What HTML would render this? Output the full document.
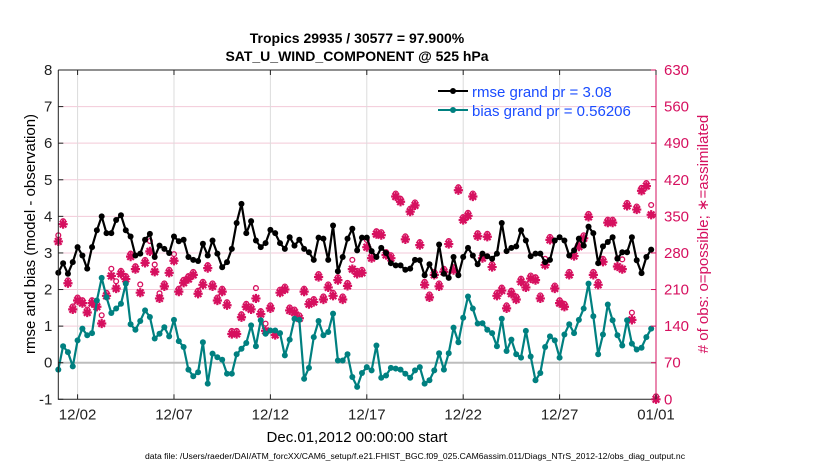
<!DOCTYPE html>
<html><head><meta charset="utf-8"><style>
body{margin:0;background:#fff;}
svg text{font-family:"Liberation Sans",sans-serif;}
</style></head><body>
<svg id="chart" width="830" height="470" viewBox="0 0 830 470" xmlns="http://www.w3.org/2000/svg">
<rect width="830" height="470" fill="#fff"/>
<g id="grid"></g>
<g id="obs"></g>
<g id="lines"></g>
<g id="axes"></g>
<text x="357" y="43" font-size="14" font-weight="bold" text-anchor="middle">Tropics 29935 / 30577 = 97.900%</text>
<text x="357" y="61" font-size="14" font-weight="bold" text-anchor="middle">SAT_U_WIND_COMPONENT @ 525 hPa</text>
<text transform="translate(35,234) rotate(-90)" font-size="15" text-anchor="middle">rmse and bias (model - observation)</text>
<text transform="translate(708,234) rotate(-90)" font-size="15" fill="#d6105f" text-anchor="middle"># of obs: o=possible; ∗=assimilated</text>
<text x="357" y="442" font-size="15" text-anchor="middle">Dec.01,2012 00:00:00 start</text>
<text x="415" y="459" font-size="8.6" text-anchor="middle" textLength="540" lengthAdjust="spacingAndGlyphs">data file: /Users/raeder/DAI/ATM_forcXX/CAM6_setup/f.e21.FHIST_BGC.f09_025.CAM6assim.011/Diags_NTrS_2012-12/obs_diag_output.nc</text>
<g>
<line x1="438" y1="91" x2="468" y2="91" stroke="#000" stroke-width="2"/>
<circle cx="453" cy="91" r="3" fill="#000"/>
<text x="472" y="97" font-size="15" fill="#1a4cff">rmse grand pr = 3.08</text>
<line x1="438" y1="110" x2="468" y2="110" stroke="#008080" stroke-width="2"/>
<circle cx="453" cy="110" r="3" fill="#008080"/>
<text x="472" y="116" font-size="15" fill="#1a4cff">bias grand pr = 0.56206</text>
</g>
</svg>
<script>
const rmse=[2.46,2.72,2.43,2.75,3.16,2.93,2.57,3.16,3.62,4.0,3.54,3.54,3.9,4.03,3.62,3.45,2.93,2.98,3.36,3.52,2.89,3.2,3.11,3.0,3.45,3.32,3.36,2.89,2.81,2.78,3.25,2.93,3.34,2.98,2.61,2.75,3.11,3.82,4.34,3.54,3.87,3.34,3.16,3.27,3.63,3.54,3.27,3.11,3.43,3.2,3.36,3.11,3.02,2.81,3.42,3.39,2.81,3.75,2.5,2.89,3.39,3.66,3.07,3.42,3.42,3.05,2.89,3.14,3.0,2.72,2.66,2.66,2.54,2.57,2.81,2.8,2.39,2.69,2.39,3.23,2.43,2.32,2.89,2.39,2.89,3.14,2.93,2.69,2.98,2.91,2.84,2.98,3.82,3.05,3.14,3.18,3.62,3.34,2.91,2.98,2.98,2.75,2.81,3.34,3.43,3.34,2.93,3.07,3.39,3.2,3.72,3.54,2.72,3.18,3.3,3.43,2.84,3.02,3.02,3.43,2.8,2.45,2.89,3.09];
const bias=[-0.19,0.45,0.29,-0.1,0.61,0.93,0.75,0.81,1.7,2.32,1.79,1.36,1.48,1.61,2.16,1.05,0.9,1.14,1.43,1.25,0.66,0.79,0.97,0.72,1.17,0.59,0.43,-0.19,-0.37,-0.26,0.56,-0.57,0.25,0.15,0.08,-0.3,-0.3,0.23,0.38,0.54,1.02,0.45,1.16,0.79,0.88,0.88,0.81,0.2,0.63,1.2,1.17,-0.44,-0.14,0.7,1.14,0.75,0.84,1.34,0.06,0.06,0.23,-0.39,-0.66,-0.28,-0.12,-0.21,0.47,-0.41,-0.35,-0.14,-0.16,-0.19,-0.3,-0.41,-0.21,-0.12,-0.57,-0.48,-0.21,0.26,-0.19,0.26,0.96,0.56,1.23,1.81,1.48,1.07,1.08,0.9,0.81,0.45,1.2,0.32,0.63,0.23,0.14,0.87,0.17,-0.48,-0.28,0.43,0.72,0.61,0.14,0.77,1.05,0.81,1.17,1.48,2.16,1.27,0.23,0.77,1.59,1.16,0.75,0.47,1.16,0.52,0.36,0.41,0.7,0.93];
const nAssim=[302,335,222,172,189,184,166,184,177,145,198,236,212,240,230,273,249,204,261,283,244,193,216,242,265,206,223,230,238,202,219,251,216,189,206,180,125,125,157,177,172,193,163,131,174,123,204,210,170,166,155,206,182,186,234,191,214,198,228,191,217,249,240,242,291,270,316,314,276,270,388,378,306,359,371,295,219,195,238,216,244,297,247,400,343,351,388,312,270,311,253,198,208,174,202,191,225,214,231,228,193,257,305,212,184,177,238,274,292,308,349,238,219,263,338,338,254,249,370,152,363,399,408,353,0];
const nPoss=[308,335,222,172,189,184,166,184,177,155,198,244,220,240,230,273,249,214,261,297,252,197,216,242,272,206,223,230,238,202,219,251,216,189,206,180,125,125,157,177,172,207,163,139,174,123,204,210,170,166,155,206,182,186,234,191,214,198,228,191,217,261,240,242,299,270,316,314,276,270,388,378,306,359,371,295,219,195,238,216,244,297,247,400,343,351,388,312,270,311,253,198,208,174,202,191,225,214,231,228,193,263,305,212,184,177,238,274,292,308,349,238,219,263,338,338,264,262,370,160,363,399,408,366,0];
const xTickDays=[1,6,11,16,21,26,31];
const xTickLabels=["12/02","12/07","12/12","12/17","12/22","12/27","01/01"];
const yTicks=[-1,0,1,2,3,4,5,6,7,8];
const y2Ticks=[0,70,140,210,280,350,420,490,560,630];

const NS="http://www.w3.org/2000/svg";
const L=58.3,R=656,T=70,B=399.3;
const xs=d=>L+(d/31)*(R-L);
const ys=v=>B-(v+1)/9*(B-T);
const y2s=v=>B-v/630*(B-T);
const dayOf=i=>i*0.25;
function mk(tag,attrs,parent){const e=document.createElementNS(NS,tag);for(const k in attrs)e.setAttribute(k,attrs[k]);parent.appendChild(e);return e;}
const grid=document.getElementById('grid'),axes=document.getElementById('axes'),obs=document.getElementById('obs'),lines=document.getElementById('lines');
const RED="#d6105f";
yTicks.forEach(v=>{if(v>-1&&v<8){const g=mk('line',{x1:L,x2:R,y1:ys(v),y2:ys(v),stroke:'#f3c9d8','stroke-width':1},grid);

}});
xTickDays.forEach(d=>{if(d<31){const g=mk('line',{x1:xs(d),x2:xs(d),y1:T,y2:B,stroke:'#dcdcdc','stroke-width':1},grid);

}});
const z=mk('line',{x1:L,x2:R,y1:ys(0),y2:ys(0),stroke:'#bdbdbd','stroke-width':2},grid);


nPoss.forEach((v,i)=>{const c=mk('circle',{cx:xs(dayOf(i)),cy:y2s(v)-3,r:2.4,fill:'none',stroke:RED,'stroke-width':1.3},obs);

});
nAssim.forEach((v,i)=>{const x=xs(dayOf(i)),y=y2s(v),s=4.6;
const p=mk('path',{d:`M${x-s},${y}H${x+s}M${x},${y-s}V${y+s}M${x-3.3},${y-3.3}L${x+3.3},${y+3.3}M${x-3.3},${y+3.3}L${x+3.3},${y-3.3}`,stroke:RED,'stroke-width':2.2,fill:'none'},obs);

});
function series(arr,color,name){
const pts=arr.map((v,i)=>xs(dayOf(i)).toFixed(1)+','+ys(v).toFixed(1)).join(' ');
const pl=mk('polyline',{points:pts,fill:'none',stroke:color,'stroke-width':2.2,'stroke-linejoin':'round'},lines);


arr.forEach((v,i)=>{const c=mk('circle',{cx:xs(dayOf(i)),cy:ys(v),r:3,fill:color},lines);

});}
series(rmse,'#000','rmse');
series(bias,'#008080','bias');
const box=mk('path',{d:`M${L},${T}V${B}H${R}M${L},${T}H${R}`,stroke:'#222','stroke-width':1,fill:'none'},axes);


const ra=mk('line',{x1:R,x2:R,y1:T,y2:B,stroke:RED,'stroke-width':1},axes);


yTicks.forEach(v=>{const y=ys(v);mk('line',{x1:L,x2:L+5,y1:y,y2:y,stroke:'#222'},axes);
const t=mk('text',{x:L-6,y:y+5,'font-size':15,'text-anchor':'end',fill:'#222'},axes);t.textContent=v;

});
y2Ticks.forEach(v=>{const y=y2s(v);mk('line',{x1:R-5,x2:R,y1:y,y2:y,stroke:RED},axes);
const t=mk('text',{x:R+8,y:y+5,'font-size':15,fill:RED},axes);t.textContent=v;

});
xTickDays.forEach((d,i)=>{const x=xs(d);mk('line',{x1:x,x2:x,y1:B,y2:B-5,stroke:'#222'},axes);mk('line',{x1:x,x2:x,y1:T,y2:T+5,stroke:'#222'},axes);
const t=mk('text',{x:x,y:B+20,'font-size':15,'text-anchor':'middle',fill:'#222'},axes);t.textContent=xTickLabels[i];

});
</script>
</body></html>
